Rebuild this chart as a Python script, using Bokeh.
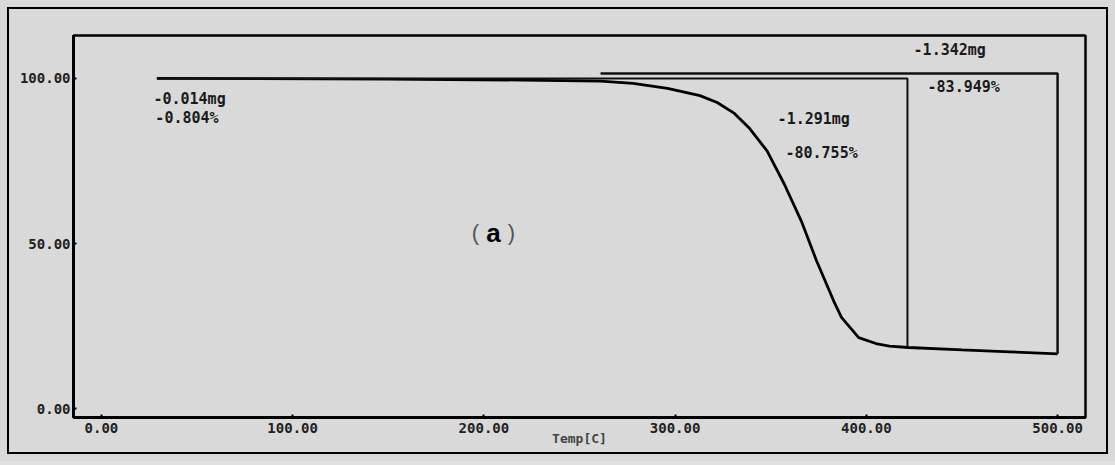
from bokeh.plotting import figure
from bokeh.models import (ColumnDataSource, FixedTicker, NumeralTickFormatter,
                          Label)
from bokeh.embed import file_html
from bokeh.resources import INLINE

# ---- data ----
temp_c = [29, 80, 150, 220, 261, 278, 296, 313, 322, 331, 339, 348, 357, 366,
          374, 383, 387, 396, 405, 412, 422, 450, 475, 500]
weight_pct = [100.0, 99.95, 99.8, 99.5, 99.2, 98.5, 97.0, 94.8, 92.7, 89.4,
              84.8, 78.1, 68.1, 56.8, 44.7, 32.5, 27.6, 21.5, 19.7, 18.9,
              18.5, 17.8, 17.2, 16.6]

# step analysis 1 (main step): start/end temperatures and levels
step1_t = [29, 421.5, 421.5]
step1_w = [100.0, 100.0, 18.5]
# step analysis 2 (total)
step2_t = [261, 500, 500]
step2_w = [101.5, 101.5, 16.6]

x_ticks = [0, 100, 200, 300, 400, 500]
y_ticks = [0, 50, 100]

ann_texts = ["-0.014mg", "-0.804%", "-1.291mg", "-80.755%", "-1.342mg", "-83.949%"]
ann_x = [27.2, 28.2, 353.6, 357.7, 424.7, 432.0]
ann_y = [93.9, 87.9, 87.6, 77.3, 108.5, 97.3]

BG = "#d9d9d9"
FONT = "DejaVu Sans Mono"

p = figure(width=1115, height=461, output_backend="svg", toolbar_location=None,
           x_range=(-14.6, 514.6), y_range=(-2.7, 113.0),
           min_border_left=73, min_border_right=30, min_border_top=35,
           min_border_bottom=44)
p.styles = {"background-color": BG,
            "box-shadow": ("inset 0 0 0 7px " + BG + ", inset 0 0 0 9px #000000, "
                           "0 10px 0 0 #e0e0e0")}
p.background_fill_color = BG
p.border_fill_alpha = 0
p.outline_line_color = "black"
p.outline_line_width = 2.5
p.grid.visible = False

for ax in (p.xaxis[0], p.yaxis[0]):
    ax.axis_line_width = 3
    ax.axis_line_color = "black"
    ax.major_tick_in = 3
    ax.major_tick_out = 0
    ax.major_tick_line_width = 2
    ax.minor_tick_line_color = None
    ax.major_label_text_font = FONT
    ax.major_label_text_font_style = "bold"
    ax.major_label_text_font_size = "14px"
    ax.major_label_text_color = "#222222"
    ax.formatter = NumeralTickFormatter(format="0.00")

p.xaxis[0].ticker = FixedTicker(ticks=x_ticks)
p.yaxis[0].ticker = FixedTicker(ticks=y_ticks)
p.xaxis[0].major_label_standoff = 5
p.yaxis[0].major_label_standoff = 3
p.xaxis[0].axis_label = "Temp[C]"
p.xaxis[0].axis_label_text_font = FONT
p.xaxis[0].axis_label_text_font_style = "bold"
p.xaxis[0].axis_label_text_font_size = "13px"
p.xaxis[0].axis_label_standoff = -5

src = ColumnDataSource(dict(t=temp_c, w=weight_pct))
p.line("t", "w", source=src, line_color="black", line_width=2.8)
p.line(step1_t, step1_w, line_color="#111111", line_width=2)
p.line(step2_t, step2_w, line_color="#111111", line_width=2.5)

asrc = ColumnDataSource(dict(x=ann_x, y=ann_y, s=ann_texts))
p.text("x", "y", text="s", source=asrc, text_align="left",
       text_baseline="middle", text_font_size="15px", text_font_style="bold",
       text_color="#1a1a1a", text_font={"value": FONT})

p.add_layout(Label(x=205, y=53.3, text="a", text_align="center",
                   text_baseline="middle", text_font_size="26px",
                   text_font_style="bold", text_font="Liberation Sans",
                   text_color="black"))
p.add_layout(Label(x=205, y=53.3, x_offset=-18, text="(", text_align="center",
                   text_baseline="middle", text_font_size="22px",
                   text_font="Liberation Sans", text_color="#555555"))
p.add_layout(Label(x=205, y=53.3, x_offset=18, text=")", text_align="center",
                   text_baseline="middle", text_font_size="22px",
                   text_font="Liberation Sans", text_color="#555555"))

open("out.html", "w").write(file_html(p, INLINE))
